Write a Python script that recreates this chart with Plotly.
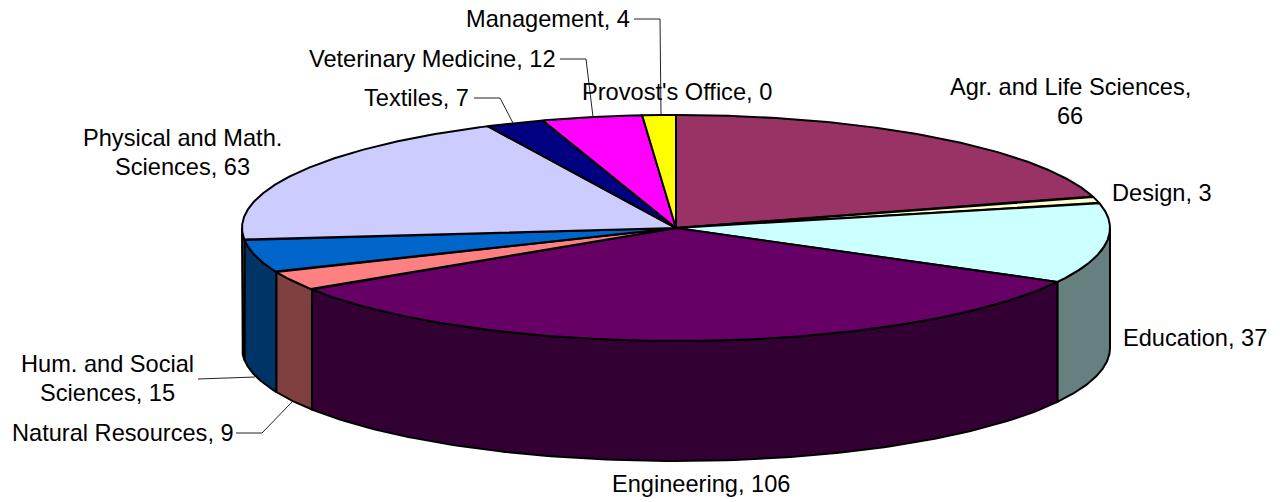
import numpy as np
import plotly.graph_objects as go

categories = ["Agr. and Life Sciences", "Design", "Education", "Engineering", "Natural Resources",
              "Hum. and Social Sciences", "Physical and Math. Sciences", "Textiles",
              "Veterinary Medicine", "Management", "Provost's Office"]
values = [66, 3, 37, 106, 9, 15, 63, 7, 12, 4, 0]
top_colors = ["#993366", "#FFFFCC", "#CCFFFF", "#660066", "#FF8080", "#0066CC",
              "#CCCCFF", "#000080", "#FF00FF", "#FFFF00", "#00FFFF"]
side_colors = ["#4D1A33", "#808066", "#668080", "#330033", "#804040", "#003366",
               "#666680", "#000040", "#800080", "#808000", "#008080"]

# Chart frame geometry (pixels of the 1280x502 page)
CX, CY, RX, RY, DEPTH = 676.0, 228.0, 434.0, 113.0, 120.0
W, H = 1280, 502

# Label lines: (lines, anchor x, first-line y, xanchor)
label_layout = {
    "Agr. and Life Sciences": (["Agr. and Life Sciences,", "66"], 1070, 87, "center"),
    "Design": (["Design, 3"], 1111, 193, "left"),
    "Education": (["Education, 37"], 1122, 338, "left"),
    "Engineering": (["Engineering, 106"], 701, 484, "center"),
    "Natural Resources": (["Natural Resources, 9"], 11, 433, "left"),
    "Hum. and Social Sciences": (["Hum. and Social", "Sciences, 15"], 107, 364, "center"),
    "Physical and Math. Sciences": (["Physical and Math.", "Sciences, 63"], 182, 138, "center"),
    "Textiles": (["Textiles, 7"], 470, 98, "right"),
    "Veterinary Medicine": (["Veterinary Medicine, 12"], 557, 59, "right"),
    "Management": (["Management, 4"], 631, 19, "right"),
    "Provost's Office": (["Provost's Office, 0"], 677, 92, "center"),
}
leaders = [
    ([634, 660, 661], [19, 19, 115]),
    ([560, 586, 593], [59, 59, 117]),
    ([474, 500, 513], [98, 98, 123]),
    ([198, 255], [379, 377]),
    ([236, 262, 292], [433, 433, 402]),
]

total = sum(values)
edges = np.concatenate([[0], np.cumsum(values)]) / total * 2 * np.pi


def ell(t, dy=0.0):
    return CX + RX * np.sin(t), CY - RY * np.cos(t) + dy


fig = go.Figure()
OUT = dict(color="black", width=2)


def add(x, y, color):
    fig.add_trace(go.Scatter(x=x, y=y, mode="lines", fill="toself", fillcolor=color,
                             line=OUT, hoverinfo="skip", showlegend=False))


# visible walls (front half of the rim)
for i in range(len(values)):
    a, b = max(edges[i], np.pi / 2), min(edges[i + 1], 3 * np.pi / 2)
    if b <= a:
        continue
    t = np.linspace(a, b, 120)
    x, y = ell(t)
    xb, yb = ell(t[::-1], DEPTH)
    add(np.r_[x, xb, x[0]], np.r_[y, yb, y[0]], side_colors[i])

# top faces
for i in range(len(values)):
    if values[i] == 0:
        continue
    t = np.linspace(edges[i], edges[i + 1], 200)
    x, y = ell(t)
    add(np.r_[CX, x, CX], np.r_[CY, y, CY], top_colors[i])

for lx, ly in leaders:
    fig.add_trace(go.Scatter(x=lx, y=ly, mode="lines", line=dict(color="#222222", width=1),
                             hoverinfo="skip", showlegend=False))

ann = []
for cat in categories:
    lines, ax, ay, anchor = label_layout[cat]
    for k, s in enumerate(lines):
        ann.append(dict(x=ax, y=ay + 29 * k, text=s, showarrow=False, xanchor=anchor, yanchor="middle",
                        xref="x", yref="y", borderpad=0,
                        font=dict(family="Liberation Sans", size=23.6, color="black")))

fig.update_layout(width=W, height=H, margin=dict(l=0, r=0, t=0, b=0),
                  paper_bgcolor="white", plot_bgcolor="white", annotations=ann, showlegend=False,
                  xaxis=dict(range=[0, W], visible=False, fixedrange=True),
                  yaxis=dict(range=[H, 0], visible=False, fixedrange=True))
fig.write_html("out.html", config={"displayModeBar": False},
               post_script="document.body.style.margin='0';document.documentElement.style.overflow='hidden';")
